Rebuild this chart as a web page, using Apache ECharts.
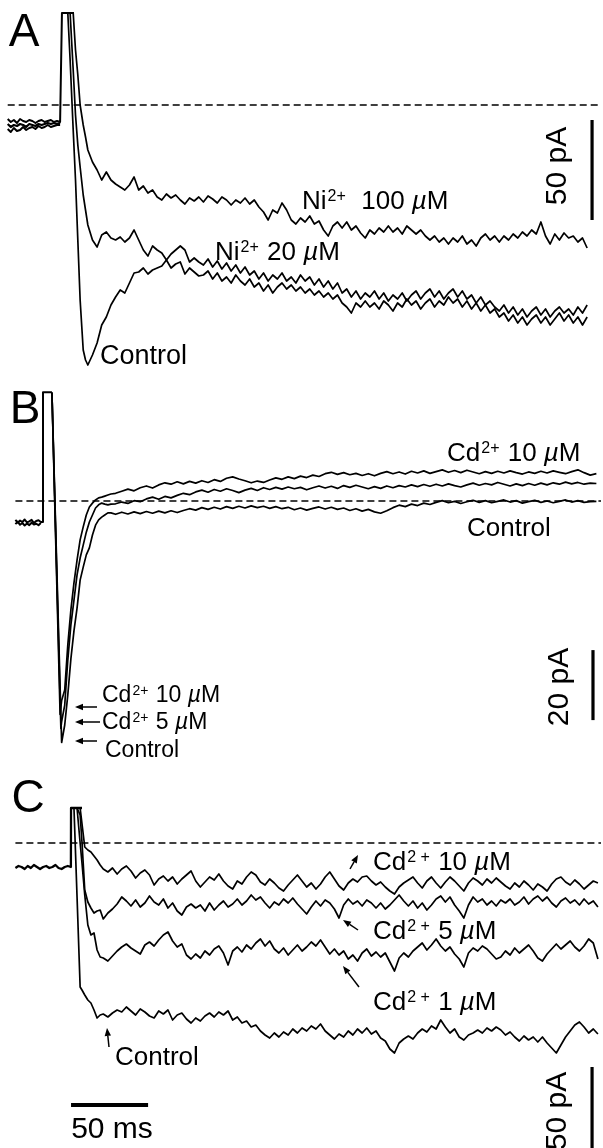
<!DOCTYPE html>
<html>
<head>
<meta charset="utf-8">
<title>Ni2+ and Cd2+ block</title>
<script src="https://cdn.jsdelivr.net/npm/echarts@6.0.0/dist/echarts.min.js"></script>
<style>
  html, body { margin: 0; padding: 0; background: #fff; }
  #main_show { width: 603px; height: 1148px; }
</style>
</head>
<body>
<div id="main_show"></div>
<script>
// time in ms, current in pA (0 = dashed zero-current line)
var FONT = '"Liberation Sans", Arial, Helvetica, sans-serif';
var INK = '#000';

// ---------- A : Ni2+ ----------
var A_BASE_T0 = 5, A_BASE_DT = 2;
var A_base1 = [-7, -8.5, -7.5, -9, -7, -8, -8.5, -7.5, -8, -9, -8, -7.5, -8.5, -8, -7.5, -8.5, -8, -8.5];
var A_base2 = [-12, -13.5, -11.5, -13, -12.5, -11, -12.5, -11.5, -11, -12, -10.5, -11.5, -11, -10, -11, -10.5, -10, -10];
var A_base3 = [-9.5, -11, -10, -10.5, -9.5, -10, -11, -9.5, -10, -10.5, -9.5, -10, -9.5, -9, -9.5, -9, -9.5, -9];
var A_STEP_ON = 40.2, A_CLIP = 46, A_CLIP_END = 48;
var A_t_early = [44, 45.5, 47.5, 49, 50.5, 52, 54, 55.5, 57];
var A_ctrl_early = [46, 22.5, -12.5, -37.5, -67.5, -97.5, -122.5, -127.5, -130];
var A_ni20_early = [46, 46, 17.5, -5, -20, -31, -45, -52.5, -60];
var A_ni100_early = [46, 46, 46, 27.5, 15, 0, -10, -16, -22.5];
var A_TAIL_T0 = 60, A_TAIL_DT = 3;
var A_ctrl_tail = [-125, -119, -110, -106, -100, -96, -92.5, -94, -89, -84, -83.5, -81.5, -84.5, -82.5, -81.5, -80.5, -77.5, -81.5, -79.5, -78.5, -84.5, -81.5, -83.5, -85.5,
  -85, -83, -87, -84, -88, -86, -89, -85, -88, -90, -87, -91, -89, -93, -90, -94, -91, -89, -92, -90,
  -93, -91, -94, -92, -95, -93, -96, -94, -97, -95, -99, -101, -104, -99, -101, -98, -101, -99, -102, -98,
  -100, -103, -99, -101, -97, -100, -98, -102, -99, -97, -101, -98, -100, -96, -99, -97, -101, -98, -102, -99,
  -103, -100, -104, -102, -106, -104, -108, -105, -109, -106, -110, -107, -105, -109, -106, -110, -107, -104, -108, -105,
  -109, -106, -110, -106];
var A_ni20_tail = [-67.5, -71, -65, -63.5, -66.5, -67.5, -66, -68.5, -66.5, -62.5, -67.5, -72.5, -75.5, -70.5, -72.5, -74, -77.5, -74.5, -72.5, -70.5, -72.5, -78.5, -76.5, -78.5,
  -80, -77, -81, -78, -82, -79, -83, -80, -84, -81, -85, -83, -87, -84, -88, -85, -87, -84, -88, -86,
  -89, -85, -88, -86, -90, -87, -91, -88, -92, -89, -94, -92, -96, -93, -97, -94, -96, -93, -97, -94,
  -98, -95, -97, -94, -98, -95, -93, -97, -94, -92, -96, -93, -97, -94, -92, -96, -93, -97, -95, -99,
  -96, -100, -98, -101, -103, -100, -104, -101, -105, -102, -106, -103, -101, -105, -102, -106, -103, -101, -104, -102,
  -105, -101, -104, -100];
var A_ni100_tail = [-28.5, -32.5, -37.5, -33.5, -37.5, -39.5, -41, -42.5, -40, -36, -42.5, -40.5, -44, -42.5, -46, -47.5, -44.5, -46.5, -45, -47.5, -49.5, -46.5, -48, -46,
  -48.5, -45.5, -47, -49, -46, -47.5, -50, -47.5, -49, -46.5, -49.5, -47.5, -51, -53.5, -57.5, -52.5, -54, -49, -52.5, -57.5,
  -59.5, -56.5, -58.5, -55.5, -59.5, -58, -62.5, -65.5, -60.5, -58.5, -61.5, -58.5, -62.5, -60.5, -64, -66.5, -62.5, -64.5, -61.5, -63.5,
  -60.5, -63.5, -61.5, -64.5, -60.5, -62.5, -64.5, -62.5, -65.5, -67.5, -65.5, -68.5, -66.5, -69.5, -66.5, -68.5, -65.5, -69.5, -67.5, -70.5,
  -66.5, -64.5, -67.5, -65.5, -68.5, -65.5, -67.5, -64.5, -66.5, -63.5, -65.5, -62.5, -64.5, -58.5, -65.5, -69.5, -64.5, -67.5, -64, -66.5,
  -65.5, -68.5, -66.5, -71.5];
var A_zero = [5, 390];
var A_BAR_T = 384.2, A_BAR_FROM = -7.5, A_BAR_PA = 50;

// ---------- B : Cd2+ ----------
var B_BASE_T0 = 10, B_BASE_DT = 1.5;
var B_base1 = [-5.4, -6.2, -5.6, -6.0, -5.3, -6.1, -5.8, -5.4, -6.3, -5.7, -5.5, -6.0];
var B_base2 = [-6.6, -5.9, -6.8, -6.3, -7.0, -6.4, -6.9, -6.2, -6.7, -6.5, -6.9, -6.3];
var B_STEP_ON = 27.9, B_CLIP = 31.1, B_CLIP_END = 33.7;
var B_t_early = [33.7, 39, 39.5, 40, 42, 44, 46, 48, 50, 52, 54, 56, 58, 60, 62, 64, 66, 68, 70, 72];
var B_ctrl_early = [31, -53, -61, -69, -64, -55.4, -45.1, -37.1, -30.6, -22.6, -18.9, -15.4, -13.4, -9.7, -6.9, -5.4, -4.6, -4, -3.4, -3.4];
var B_cd5_early = [31, -56.7, -65, -63, -58.3, -45.4, -35.4, -28.3, -21.1, -16.3, -12.6, -8.9, -6, -4, -2, -1.1, -0.6, -0.9, -1.1, -0.9];
var B_cd10_early = [31, -61, -59, -57, -54, -41.1, -31.1, -23.4, -16.9, -11.1, -7.4, -4, -1.7, -0.6, 0.3, 0.9, 1.1, 1.4, 1.7, 2];
var B_TAIL_T0 = 75, B_TAIL_DT = 4;
var B_cd10_tail = [2.2, 2.8, 3.4, 2.9, 3.8, 4.3, 3.7, 4.6, 5.2, 4.8,
  5.5, 4.9, 5.6, 5.1, 5.8, 5.3, 6.1, 5.6, 6.5, 6.9,
  6.3, 5.8, 5.2, 5.7, 5.3, 6.0, 6.6, 6.2, 6.9, 6.4,
  7.1, 6.7, 7.4, 7.0, 7.8, 8.2, 7.6, 8.1, 7.5, 7.9,
  7.3, 7.8, 7.2, 7.9, 8.4, 7.8, 8.3, 7.7, 8.5, 8.0,
  8.6, 7.9, 8.4, 8.9, 8.2, 8.7, 8.1, 8.8, 8.3, 7.8,
  8.4, 7.9, 8.5, 8.0, 8.6, 8.1, 7.7, 8.3, 7.9, 8.5,
  8.0, 8.6, 8.2, 7.8, 8.4, 8.9, 8.1, 7.4, 7.8];
var B_cd5_tail = [-0.8, -0.3, -0.7, 0.1, -0.2, 0.6, 1.1, 0.5, 1.3, 0.9,
  1.6, 2.2, 1.8, 2.6, 3.1, 2.5, 3.3, 2.8, 3.5, 3.0,
  2.4, 3.1, 3.6, 3.0, 3.8, 3.3, 3.9, 3.4, 4.0, 3.5,
  3.9, 3.2, 3.8, 4.3, 3.7, 4.2, 3.6, 4.4, 3.9, 4.5,
  4.0, 3.5, 4.1, 3.6, 4.3, 3.8, 4.4, 4.0, 4.6, 4.1,
  4.7, 4.2, 4.8, 4.3, 4.9, 4.4, 4.0, 4.6, 5.1, 4.5,
  5.0, 4.6, 5.3, 4.8, 4.3, 4.9, 4.4, 5.0, 4.5, 5.1,
  4.6, 5.2, 4.8, 5.4, 4.9, 5.3, 4.8, 5.1, 5.0];
var B_ctrl_tail = [-3.8, -3.2, -3.7, -3.1, -3.6, -3.0, -3.5, -2.9, -3.4, -2.8,
  -3.3, -2.7, -2.2, -2.6, -1.9, -2.4, -1.8, -2.3, -1.6, -2.1,
  -1.5, -2.0, -1.4, -1.9, -1.5, -2.1, -1.6, -2.2, -1.8, -2.5,
  -2.0, -2.6, -2.1, -1.7, -2.3, -1.8, -2.4, -2.0, -2.7, -2.2,
  -2.9, -2.4, -3.1, -3.5, -2.8, -1.9, -1.2, -1.6, -0.9, -1.3,
  -0.6, -1.0, -0.4, 0.1, -0.5, -0.1, -0.7, -0.2, 0.2, -0.4,
  0.1, -0.5, -0.1, 0.3, -0.3, 0.1, -0.6, -0.2, 0.2, -0.4,
  0.0, -0.5, -0.1, 0.3, -0.3, 0.1, -0.4, -0.2, -0.1];
var B_zero = [10, 390];
var B_BAR_T = 384.8, B_BAR_FROM = -42.6, B_BAR_PA = 20;

// ---------- C : Cd2+ ----------
var C_BASE_T0 = 10, C_BASE_DT = 2;
var C_base = [-12.5, -11.5, -12, -13, -11.5, -12.5, -11, -12, -13, -12, -11.5, -12.5, -12, -11, -12.5, -13, -12, -11.5, -12];
var C_STEP_ON = 46.1, C_CLIP = 17.5, C_CLIP_END = 53.2;
var C_t_early = [48, 50, 52, 53.2, 55, 57, 59, 61, 63, 65];
var C_ctrl_early = [17.5, -27, -72, -73.5, -76, -78.5, -80, -83.5, -87.5, -86];
var C_cd1_early = [17.5, 17.5, 0, -10, -26, -41, -46, -45, -53.5, -57];
var C_cd5_early = [17.5, 17.5, 14, 0.5, -23.5, -29.5, -32.5, -35, -34, -33.5];
var C_cd10_early = [17.5, 17.5, 17.5, 17.5, -2, -3.5, -4.5, -6.5, -8.5, -11];
var C_TAIL_T0 = 67, C_TAIL_DT = 3;
var C_ctrl_tail = [-85.5, -87, -85, -83.5, -84.5, -82, -84, -86, -83, -84.5,
  -86.5, -87.5, -84, -85.5, -83.5, -88.5, -86, -85, -88, -90,
  -87.5, -89, -86.5, -85, -87, -84.5, -86, -84, -88.5, -87,
  -90, -89, -92, -91, -94, -96, -97.5, -95, -97, -94.5,
  -96, -93, -95, -92.5, -94, -91.5, -93, -90.5, -94, -96,
  -98, -95.5, -97, -94, -96, -93, -95, -92.5, -95.5, -94,
  -97.5, -99, -103, -105, -100, -98, -96.5, -98, -95, -93,
  -94.5, -91.5, -93, -88.5, -92, -95, -93, -97, -98.5, -96,
  -95, -93.5, -95, -92.5, -94, -92, -93.5, -96, -94.5, -97,
  -99, -96.5, -98.5, -97, -99.5, -97, -100, -102.5, -105, -101,
  -97, -94, -91, -89.5, -92, -95, -93, -95.5];
var C_cd1_tail = [-57.5, -59, -56.5, -54, -52, -50.5, -52.5, -54, -55.5, -51,
  -49.5, -51.5, -48.5, -46, -44.5, -49, -52, -50.5, -56, -58,
  -55.5, -57.5, -54, -56, -53, -51.5, -55, -61, -54, -52,
  -54.5, -51, -53, -50, -48, -51.5, -49, -53, -55, -52.5,
  -56, -53.5, -51, -54, -52, -49.5, -51.5, -48.5, -52, -55.5,
  -53, -56, -54, -58, -56, -59, -55, -53, -56.5, -54.5,
  -57, -55, -59.5, -64, -57.5, -55, -57, -54, -52, -50,
  -53.5, -51, -48, -51.5, -54, -52, -55.5, -58, -62, -55,
  -52.5, -54, -51.5, -53, -55.5, -58, -57, -54, -56, -52.5,
  -55, -53, -51, -54, -57.5, -59, -55.5, -53, -50.5, -53,
  -51, -49, -52, -54, -51.5, -48, -50, -58];
var C_cd5_tail = [-38, -35, -33, -30.5, -27, -29, -31.5, -28.5, -32, -30,
  -26.5, -29.5, -31, -28, -32.5, -30, -34, -36, -32, -30.5,
  -32.5, -31, -34, -30, -33.5, -31, -29, -32, -30.5, -28,
  -31, -29, -26, -28.5, -27, -30, -32.5, -29.5, -31, -28,
  -30, -27.5, -30.5, -33, -35.5, -32, -29, -31.5, -28.5, -30,
  -33, -37.5, -31, -28, -30.5, -29, -31.5, -28.5, -30, -32.5,
  -30, -33, -31, -28.5, -26, -29, -31.5, -29, -32.5, -30,
  -33.5, -31, -28, -26.5, -29.5, -27, -31, -34, -37.5, -31,
  -27, -29.5, -28, -31, -29, -31.5, -28.5, -30, -28, -31,
  -29.5, -27, -30.5, -28, -26.5, -29, -27, -30, -32, -29,
  -27.5, -30, -28.5, -31, -28, -30.5, -29, -32];
var C_cd10_tail = [-13, -14.5, -12.5, -15.5, -13, -11.5, -14, -17.5, -15, -13.5,
  -16, -21, -18, -16.5, -19, -17, -20.5, -18, -16, -14,
  -19, -22, -19.5, -17, -18.5, -15.5, -19, -21.5, -23, -19,
  -20.5, -17, -14.5, -16, -19.5, -21, -18, -20, -22.5, -24,
  -21, -18.5, -16, -19, -22, -20, -23, -20.5, -17, -14.5,
  -18, -21.5, -23.5, -20, -18, -19.5, -17, -16.5, -19, -21,
  -19.5, -22, -24, -25.5, -22, -20, -18.5, -17, -20, -22.5,
  -19, -17, -20, -22.5, -19.5, -17, -19, -21.5, -24, -20,
  -17.5, -19, -21, -18, -20, -17.5, -19.5, -21.5, -23, -20,
  -22, -19, -21, -23.5, -20.5, -22, -24, -20.5, -18, -17,
  -19.5, -21, -18.5, -20.5, -23, -21, -19, -20];
var C_zero = [10, 390];
var C_BAR_T = 384.2, C_BAR_FROM = -112, C_BAR_PA = 50;
var C_MS_T0 = 46.1, C_MS_LEN = 50, C_MS_Y = -131;

// ---------- helpers ----------
function sampled(t0, dt, vals) {
  return vals.map(function (v, i) { return [t0 + i * dt, v]; });
}
function pairs(ts, vals) {
  return ts.map(function (t, i) { return [t, vals[i]]; });
}
function trace(tE, early, t0, dt, tail) {
  return pairs(tE, early).concat(sampled(t0, dt, tail));
}
function onset(t0, dt, base, tOn, clip, clipEnd) {
  var d = sampled(t0, dt, base);
  var last = base[base.length - 1];
  return d.concat([[tOn, last], [tOn, clip], [clipEnd, clip]]);
}
function line(g, data, width, dash) {
  return {
    type: 'line', xAxisIndex: g, yAxisIndex: g, data: data,
    symbol: 'none', silent: true, animation: false,
    lineStyle: { color: INK, width: width || 1.7, type: dash || 'solid', cap: 'butt', join: 'round' }
  };
}
function zero(g, span) {
  return line(g, [[span[0], 0], [span[1], 0]], 1.3, [7, 4]);
}
function vbar(g, t, from, len) { return line(g, [[t, from], [t, from - len]], 3.2); }

function rich(size, sup) {
  return {
    n: { fontSize: size, fontFamily: FONT, fill: INK },
    s: { fontSize: sup, fontFamily: FONT, fill: INK, verticalAlign: 'top', padding: [0, 1, 0, 1] },
    m: { fontSize: size, fontFamily: FONT, fill: INK, fontStyle: 'italic' }
  };
}
function label(x, y, text, size, align) {
  return {
    type: 'text', x: x, y: y, silent: true,
    style: {
      text: text, rich: rich(size, Math.round(size * 0.6)), fill: INK,
      fontSize: size, fontFamily: FONT,
      align: align || 'left', verticalAlign: 'middle'
    }
  };
}
function vlabel(x, y, text, size) {
  return {
    type: 'text', x: x, y: y, rotation: Math.PI / 2, silent: true,
    style: { text: text, fill: INK, fontSize: size, fontFamily: FONT, align: 'center', verticalAlign: 'middle' }
  };
}
function arrow(x1, y1, x2, y2) {
  var a = Math.atan2(y2 - y1, x2 - x1), L = 8, W = 3.2;
  var bx = x2 - L * Math.cos(a), by = y2 - L * Math.sin(a);
  var px = -Math.sin(a) * W, py = Math.cos(a) * W;
  return [
    { type: 'line', silent: true, shape: { x1: x1, y1: y1, x2: bx, y2: by }, style: { stroke: INK, lineWidth: 1.5 } },
    { type: 'polygon', silent: true, shape: { points: [[x2, y2], [bx + px, by + py], [bx - px, by - py]] }, style: { fill: INK } }
  ];
}

// ---------- chart ----------
var main_show = echarts.init(document.getElementById('main_show'), null, { renderer: 'canvas' });

var xAxes = [0, 1, 2].map(function (i) {
  return { type: 'value', gridIndex: i, min: 0, max: 390, show: false };
});
var yAxes = [
  { type: 'value', gridIndex: 0, min: -140, max: 50, show: false },
  { type: 'value', gridIndex: 1, min: -75, max: 35, show: false },
  { type: 'value', gridIndex: 2, min: -152.5, max: 25, show: false }
];

var series = [
  zero(0, A_zero),
  line(0, onset(A_BASE_T0, A_BASE_DT, A_base1, A_STEP_ON, A_CLIP, A_CLIP_END), 2),
  line(0, sampled(A_BASE_T0, A_BASE_DT, A_base2), 2),
  line(0, sampled(A_BASE_T0, A_BASE_DT, A_base3), 2.2),
  line(0, [[A_STEP_ON, A_CLIP]].concat(trace(A_t_early, A_ctrl_early, A_TAIL_T0, A_TAIL_DT, A_ctrl_tail))),
  line(0, trace(A_t_early, A_ni20_early, A_TAIL_T0, A_TAIL_DT, A_ni20_tail)),
  line(0, trace(A_t_early, A_ni100_early, A_TAIL_T0, A_TAIL_DT, A_ni100_tail)),
  vbar(0, A_BAR_T, A_BAR_FROM, A_BAR_PA),

  zero(1, B_zero),
  line(1, onset(B_BASE_T0, B_BASE_DT, B_base1, B_STEP_ON, B_CLIP, B_CLIP_END), 2),
  line(1, sampled(B_BASE_T0, B_BASE_DT, B_base2), 2),
  line(1, trace(B_t_early, B_ctrl_early, B_TAIL_T0, B_TAIL_DT, B_ctrl_tail)),
  line(1, trace(B_t_early, B_cd5_early, B_TAIL_T0, B_TAIL_DT, B_cd5_tail)),
  line(1, trace(B_t_early, B_cd10_early, B_TAIL_T0, B_TAIL_DT, B_cd10_tail)),
  vbar(1, B_BAR_T, B_BAR_FROM, B_BAR_PA),

  zero(2, C_zero),
  line(2, onset(C_BASE_T0, C_BASE_DT, C_base, C_STEP_ON, C_CLIP, C_CLIP_END), 2.3),
  line(2, [[C_STEP_ON, C_CLIP]].concat(trace(C_t_early, C_ctrl_early, C_TAIL_T0, C_TAIL_DT, C_ctrl_tail))),
  line(2, trace(C_t_early, C_cd1_early, C_TAIL_T0, C_TAIL_DT, C_cd1_tail)),
  line(2, trace(C_t_early, C_cd5_early, C_TAIL_T0, C_TAIL_DT, C_cd5_tail)),
  line(2, trace(C_t_early, C_cd10_early, C_TAIL_T0, C_TAIL_DT, C_cd10_tail)),
  vbar(2, C_BAR_T, C_BAR_FROM, C_BAR_PA),
  line(2, [[C_MS_T0, C_MS_Y], [C_MS_T0 + C_MS_LEN, C_MS_Y]], 4)
];

var graphics = [
  label(24, 33, 'A', 46, 'center'),
  label(302, 202, '{n|Ni}{s|2+}{n|  100 }{m|µ}{n|M}', 26),
  label(215, 253, '{n|Ni}{s|2+}{n| 20 }{m|µ}{n|M}', 26),
  label(100, 357, 'Control', 27),
  vlabel(558, 166, '50 pA', 30),

  label(25, 410, 'B', 46, 'center'),
  label(447, 454, '{n|Cd}{s|2+}{n| 10 }{m|µ}{n|M}', 26),
  label(467, 529, 'Control', 26),
  label(102, 696, '{n|Cd}{s|2+}{n| 10 }{m|µ}{n|M}', 23),
  label(102, 723, '{n|Cd}{s|2+}{n| 5 }{m|µ}{n|M}', 23),
  label(105, 751, 'Control', 23),
  vlabel(560, 687, '20 pA', 30),

  label(28, 799, 'C', 46, 'center'),
  label(373, 863, '{n|Cd}{s|2 +}{n| 10 }{m|µ}{n|M}', 26),
  label(373, 932, '{n|Cd}{s|2 +}{n| 5 }{m|µ}{n|M}', 26),
  label(373, 1003, '{n|Cd}{s|2 +}{n| 1 }{m|µ}{n|M}', 26),
  label(115, 1058, 'Control', 26),
  label(112, 1130, '50 ms', 30, 'center'),
  vlabel(558, 1111, '50 pA', 30)
].concat(
  arrow(97, 707, 75, 707),
  arrow(100, 722, 75, 722),
  arrow(97, 741, 75, 741),
  arrow(350, 869, 358, 855),
  arrow(358, 930, 343, 920),
  arrow(359, 987, 343, 966),
  arrow(109, 1047, 107, 1028)
);

var option = {
  backgroundColor: '#fff',
  animation: false,
  textStyle: { fontFamily: FONT },
  grid: [
    { left: 0, right: 2, top: 5, height: 380 },
    { left: 0, right: 2, top: 378.5, height: 385 },
    { left: 0, right: 2, top: 793, bottom: 0 }
  ],
  xAxis: xAxes,
  yAxis: yAxes,
  series: series,
  graphic: graphics
};
main_show.setOption(option);
</script>
</body>
</html>
